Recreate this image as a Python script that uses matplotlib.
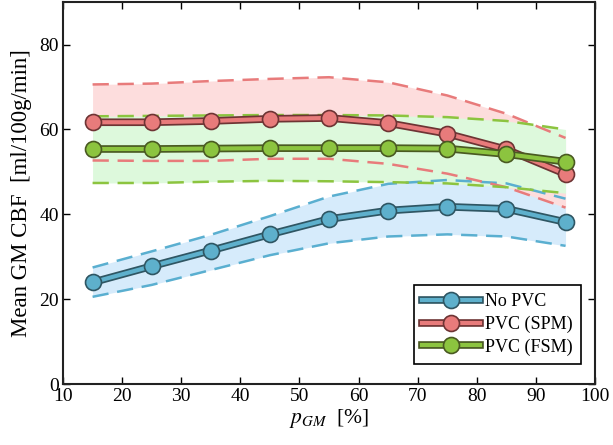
import matplotlib
matplotlib.use("Agg")
import matplotlib.pyplot as plt
import matplotlib.patheffects as pe
from matplotlib.lines import Line2D
from matplotlib.legend_handler import HandlerTuple

plt.rcParams['font.family'] = ['Liberation Serif', 'DejaVu Serif']
plt.rcParams['mathtext.fontset'] = 'stix'

p_gm = [15, 25, 35, 45, 55, 65, 75, 85, 95]

nopvc_mean = [24.0, 27.8, 31.5, 35.3, 38.9, 40.9, 41.8, 41.3, 38.2]
nopvc_upper = [27.5, 31.3, 35.2, 39.6, 44.2, 47.2, 48.1, 47.3, 43.7]
nopvc_lower = [20.6, 23.4, 26.9, 30.4, 33.2, 34.8, 35.3, 34.8, 32.6]

spm_mean = [61.7, 61.7, 62.0, 62.5, 62.7, 61.5, 59.0, 55.3, 49.5]
spm_upper = [70.6, 70.8, 71.4, 71.9, 72.3, 71.1, 68.0, 63.7, 58.0]
spm_lower = [52.7, 52.6, 52.6, 53.1, 53.1, 51.9, 49.6, 46.4, 41.6]

fsm_mean = [55.4, 55.4, 55.5, 55.6, 55.6, 55.6, 55.5, 54.2, 52.4]
fsm_upper = [63.1, 63.2, 63.3, 63.4, 63.4, 63.3, 62.9, 62.0, 60.0]
fsm_lower = [47.4, 47.4, 47.7, 47.9, 47.8, 47.6, 47.3, 46.4, 45.0]

labels = ['No PVC', 'PVC (SPM)', 'PVC (FSM)']
xticks = [10, 20, 30, 40, 50, 60, 70, 80, 90, 100]
yticks = [0, 20, 40, 60, 80]

fig = plt.figure(figsize=(6.13, 4.45), dpi=100)
ax = fig.add_axes([0.1028, 0.1364, 0.868, 0.859])

series = [
    (nopvc_mean, nopvc_upper, nopvc_lower, '#5eb0cc', '#d6ebfb', '#5aafd0', '#2f5663'),
    (spm_mean, spm_upper, spm_lower, '#e87b7b', '#fddddd', '#e87b7b', '#6e3434'),
    (fsm_mean, fsm_upper, fsm_lower, '#8cc43f', '#ddf9dc', '#8cc43f', '#4a5a22'),
]

for i, (m, u, l, col, fillc, dashc, dark) in enumerate(series):
    ax.fill_between(p_gm, l, u, color=fillc, lw=0, zorder=1 + i * 0.1)
for i, (m, u, l, col, fillc, dashc, dark) in enumerate(series):
    ax.plot(p_gm, u, color=dashc, lw=1.8, dashes=(6.5, 3.5), zorder=2)
    ax.plot(p_gm, l, color=dashc, lw=1.8, dashes=(6.5, 3.5), zorder=2)

handles = []
for i, (m, u, l, col, fillc, dashc, dark) in enumerate(series):
    effects = [pe.Stroke(linewidth=5.5, foreground=dark), pe.Normal()]
    ln, = ax.plot(p_gm, m, color=col, lw=3, zorder=3 + i, path_effects=effects)
    mk, = ax.plot(p_gm, m, ls='none', marker='o', ms=11.5,
                  mfc=col, mec=dark, mew=1.2, zorder=3.5 + i)
    handles.append((ln, mk))

ax.set_xlim(10, 100)
ax.set_ylim(0, 90)
ax.set_xticks(xticks)
ax.set_yticks(yticks)
ax.tick_params(direction='in', top=True, right=True, length=5, width=1,
               labelsize=14, pad=3)
for s in ax.spines.values():
    s.set_linewidth(1.5)
    s.set_color('#222222')

ax.set_xlabel(r'$p_{GM}$  [%]', fontsize=15.5, labelpad=1)
ax.set_ylabel('Mean GM CBF  [ml/100g/min]', fontsize=16.5, labelpad=5)

leg = ax.legend(handles=handles, labels=labels, loc='lower right', fontsize=13,
                frameon=True, fancybox=False, edgecolor='black', framealpha=1,
                handler_map={tuple: HandlerTuple(ndivide=1)},
                handlelength=3.2, handletextpad=0.3, borderpad=0.45,
                labelspacing=0.3, bbox_to_anchor=(0.99, 0.03))
leg.get_frame().set_linewidth(1.2)

fig.savefig('out.png', dpi=100)
